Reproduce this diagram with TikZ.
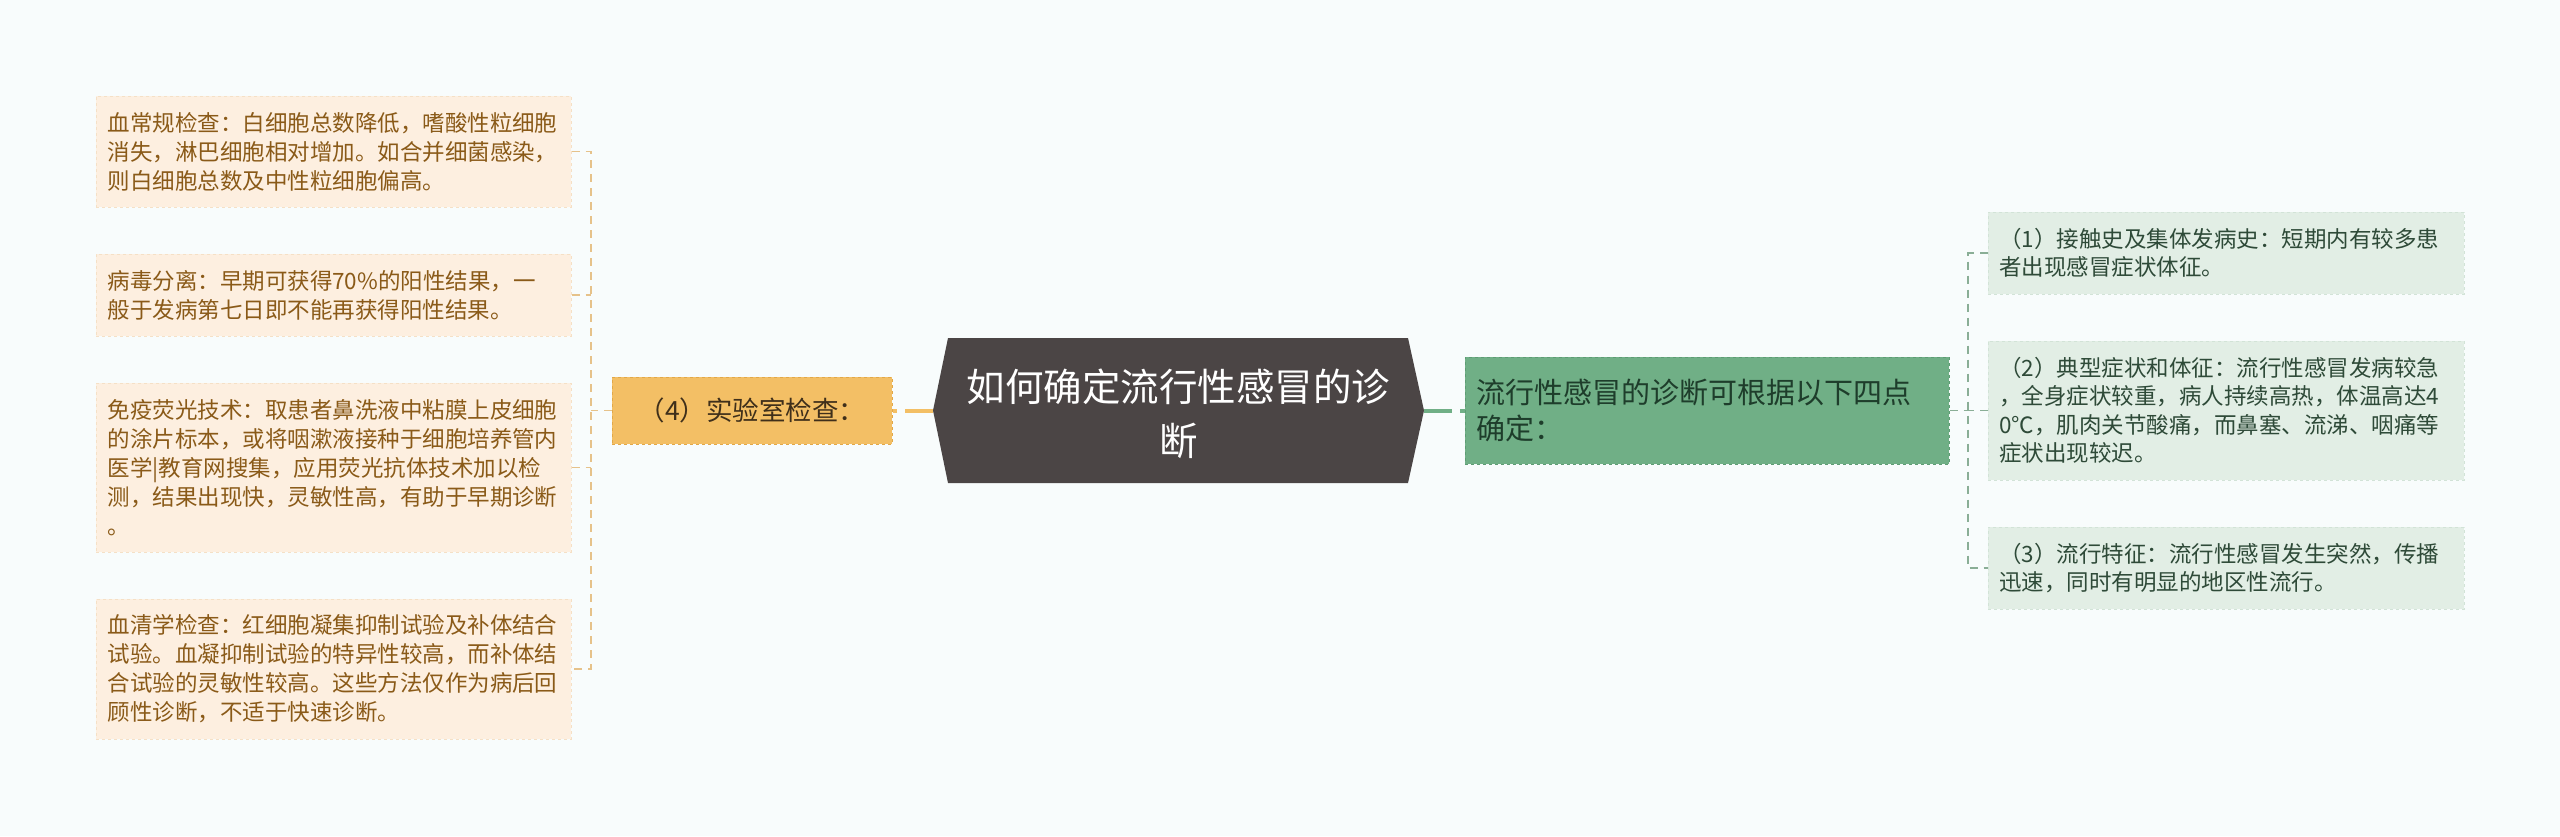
\documentclass[tikz,border=0pt]{standalone}
\usepackage{fontspec}
\setmainfont{Noto Sans CJK SC}
\definecolor{bg}{HTML}{F8FCFC}
\definecolor{peach}{HTML}{FDEFE0}
\definecolor{peachline}{HTML}{F5E0C6}
\definecolor{peachtext}{HTML}{8A5A18}
\definecolor{orange}{HTML}{F3BF65}
\definecolor{orangeline}{HTML}{E2A848}
\definecolor{orangetext}{HTML}{3F2F1A}
\definecolor{hexfill}{HTML}{4B4545}
\definecolor{green}{HTML}{70AF86}
\definecolor{greenline}{HTML}{5E9C74}
\definecolor{greentext}{HTML}{1E3D2B}
\definecolor{lgreen}{HTML}{E2EEE5}
\definecolor{lgreenline}{HTML}{D2E3D7}
\definecolor{lgreentext}{HTML}{2E4A38}
\definecolor{connl}{HTML}{E6C28A}
\definecolor{connr}{HTML}{8AAE96}
\begin{document}
\begin{tikzpicture}[x=1pt,y=-1pt,
  leafL/.style={fill=peach, draw=peachline, dashed, line width=1pt, text=peachtext,
    font=\fontsize{22.5}{29}\selectfont, align=left, text width=452pt,
    inner xsep=11.5pt, inner ysep=0pt, minimum width=475pt},
  leafR/.style={fill=lgreen, draw=lgreenline, dashed, line width=1pt, text=lgreentext,
    font=\fontsize{22.5}{28.5}\selectfont, align=left, text width=454pt,
    inner xsep=11pt, inner ysep=0pt, minimum width=476pt},
  connL/.style={draw=connl, line width=1.5pt, dash pattern=on 8pt off 6pt},
  connR/.style={draw=connr, line width=1.5pt, dash pattern=on 8pt off 6pt},
  trunkL/.style={draw=orange, line width=4pt, dash pattern=on 28pt off 8pt},
  trunkR/.style={draw=green, line width=4pt, dash pattern=on 28pt off 8pt}]
\useasboundingbox[fill=bg] (0,0) rectangle (2560,836);

% left leaves
\node[leafL, minimum height=111pt] (L1) at (333.5,151.5) {血常规检查：白细胞总数降低，嗜酸性粒细胞\\消失，淋巴细胞相对增加。如合并细菌感染，\\则白细胞总数及中性粒细胞偏高。};
\node[leafL, minimum height=82pt] (L2) at (333.5,295) {病毒分离：早期可获得70\%的阳性结果，一\\般于发病第七日即不能再获得阳性结果。};
\node[leafL, minimum height=169pt] (L3) at (333.5,467.5) {免疫荧光技术：取患者鼻洗液中粘膜上皮细胞\\的涂片标本，或将咽漱液接种于细胞培养管内\\医学|教育网搜集，应用荧光抗体技术加以检\\测，结果出现快，灵敏性高，有助于早期诊断\\。};
\node[leafL, minimum height=140pt] (L4) at (333.5,669) {血清学检查：红细胞凝集抑制试验及补体结合\\试验。血凝抑制试验的特异性较高，而补体结\\合试验的灵敏性较高。这些方法仅作为病后回\\顾性诊断，不适于快速诊断。};

% lab node
\node[fill=orange, draw=orangeline, dashed, line width=1pt, text=orangetext,
  font=\fontsize{26.5}{32}\selectfont, minimum width=280pt, minimum height=67pt,
  inner sep=0pt] (lab) at (752,410.5) {（4）实验室检查：};

% root hexagon
\coordinate (hexL) at (933,410.5);
\coordinate (hexR) at (1424,410.5);
\fill[hexfill] (hexL) -- (948,338) -- (1408,338) -- (hexR) -- (1408,483) -- (948,483) -- cycle;
\node[text=white, font=\fontsize{38.5}{54}\selectfont, align=center, inner sep=0pt] (root) at (1178.5,414) {如何确定流行性感冒的诊\\断};

% green node
\node[fill=green, draw=greenline, dashed, line width=1pt, text=greentext,
  font=\fontsize{29}{36}\selectfont, align=left, text width=462pt, inner xsep=11pt,
  inner ysep=0pt, minimum width=484pt, minimum height=107pt] (grn) at (1707,410.5) {流行性感冒的诊断可根据以下四点\\确定：};

% right leaves
\node[leafR, minimum height=82pt] (R1) at (2226,253) {（1）接触史及集体发病史：短期内有较多患\\者出现感冒症状体征。};
\node[leafR, minimum height=139pt] (R2) at (2226,410.5) {（2）典型症状和体征：流行性感冒发病较急\\，全身症状较重，病人持续高热，体温高达4\\0℃，肌肉关节酸痛，而鼻塞、流涕、咽痛等\\症状出现较迟。};
\node[leafR, minimum height=82pt] (R3) at (2226,568) {（3）流行特征：流行性感冒发生突然，传播\\迅速，同时有明显的地区性流行。};

% connectors
\draw[trunkL] (hexL) -- (lab.east);
\draw[trunkR] (hexR) -- (grn.west);
\coordinate (lj) at (591,410.5);
\coordinate (rj) at (1968,410.5);
\draw[connL] (lab.west) -- (lj);
\draw[connL] (L1.east) -- (L1.east -| lj) -- (L4.east -| lj) -- (L4.east);
\draw[connL] (L2.east) -- (L2.east -| lj);
\draw[connL] (L3.east) -- (L3.east -| lj);
\draw[connR] (grn.east) -- (rj);
\draw[connR] (R1.west) -- (R1.west -| rj) -- (R3.west -| rj) -- (R3.west);
\draw[connR] (R2.west) -- (R2.west -| rj);
\end{tikzpicture}
\end{document}
